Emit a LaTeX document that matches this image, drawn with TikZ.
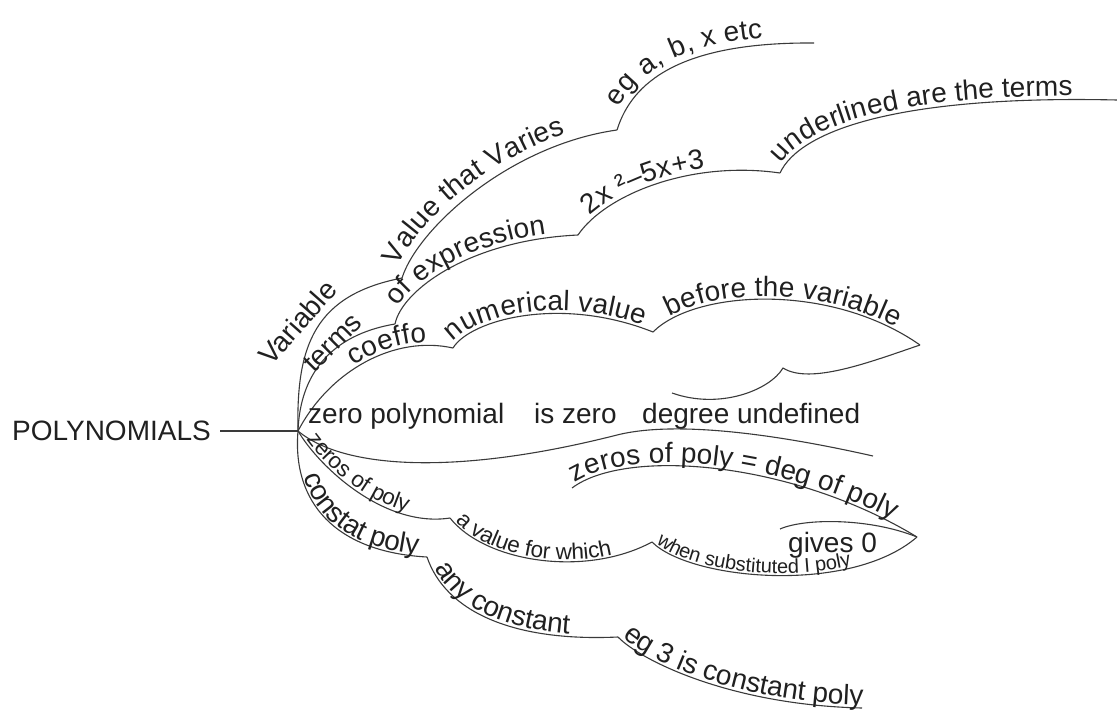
\documentclass[tikz,border=0pt]{standalone}
\usepackage{fontspec}
\setmainfont{Liberation Sans}
\usetikzlibrary{decorations.text}
\definecolor{inkline}{HTML}{3A3A3A}
\definecolor{inktext}{HTML}{202020}
\newcommand\bigtext{\fontsize{28}{32}\selectfont}
\newcommand\midtext{\fontsize{22.5}{26}\selectfont}
\newcommand\smalltext{\fontsize{20}{24}\selectfont}

\tikzset{
  branch/.style={draw=inkline, line width=1.1pt},
  flat/.style={anchor=base west, inner sep=0pt, font=\bigtext, text=inktext},
  tilted/.style={anchor=base, inner sep=0pt, font=\bigtext, text=inktext, rotate=#1},
  % text laid along a branch: text, start offset along the branch, lift above it
  bigalong/.style n args={3}{postaction={decorate, decoration={text along path,
      text={|\color{inktext}\bigtext|#1}, text align={left indent=#2}, raise=#3}}},
  midalong/.style n args={3}{postaction={decorate, decoration={text along path,
      text={|\color{inktext}\midtext|#1}, text align={left indent=#2}, raise=#3}}},
  smallalong/.style n args={3}{postaction={decorate, decoration={text along path,
      text={|\color{inktext}\smalltext|#1}, text align={left indent=#2}, raise=#3}}},
}

\begin{document}
\begin{tikzpicture}[x=1pt,y=-1pt]
\useasboundingbox (0,0) rectangle (1117,718);

% junctions of the map
\coordinate (hub)  at (298,431);
\coordinate (jV)   at (402,278);
\coordinate (jV2)  at (617,130);
\coordinate (eV)   at (814,43);
\coordinate (jT)   at (395,324);
\coordinate (jT2)  at (578,235);
\coordinate (jT3)  at (780,173);
\coordinate (eT)   at (1117,100);
\coordinate (jC)   at (453,348);
\coordinate (jN)   at (653,332);
\coordinate (tipB) at (920,345);
\coordinate (jB)   at (783,368);
\coordinate (eB)   at (672,393);
\coordinate (mZP)  at (617,435);
\coordinate (eZP)  at (873,456);
\coordinate (jZ)   at (450,518);
\coordinate (jW)   at (652,542);
\coordinate (tipZ) at (917,537);
\coordinate (sD)   at (572,488);
\coordinate (sG)   at (780,529);
\coordinate (jK)   at (427,557);
\coordinate (jA)   at (618,637);
\coordinate (eK)   at (862,708);

% central topic
\node[anchor=east, inner sep=0pt, font=\bigtext, text=inktext] (poly) at (211,431) {POLYNOMIALS};
\draw[branch] ([xshift=9pt]poly.east) -- (hub);

% variable
\draw[branch] (hub) .. controls (296,345) and (315,295) .. (jV);
\node[tilted=48.5] (var) at (305,329) {Variable};
\draw[branch, bigalong={Value that Varies}{8pt}{8pt}]
  (jV) .. controls (418,228) and (510,145) .. (jV2);
\draw[branch, bigalong={eg a, b, x etc}{20pt}{7pt}]
  (jV2) .. controls (632,82) and (680,42) .. (eV);

% terms
\draw[branch] (hub) .. controls (300,375) and (330,335) .. (jT);
\node[tilted=45] (trm) at (339,349) {terms};
\draw[branch, bigalong={of expression}{16pt}{4pt}]
  (jT) .. controls (402,290) and (470,240) .. (jT2);
\draw[branch, bigalong={2x ²–5x+3}{22pt}{4pt}]
  (jT2) .. controls (605,195) and (690,160) .. (jT3);
\draw[branch, bigalong={underlined are the terms}{8pt}{4pt}]
  (jT3) .. controls (800,130) and (900,95) .. (eT);

% coefficient
\draw[branch, bigalong={coeffo}{86pt}{3pt}]
  (hub) .. controls (330,370) and (395,335) .. (jC);
\draw[branch, bigalong={numerical value}{4pt}{3pt}]
  (jC) .. controls (470,320) and (560,295) .. (jN);
\draw[branch, bigalong={before the variable}{22pt}{3pt}]
  (jN) .. controls (695,290) and (830,282) .. (tipB);
\draw[branch] (tipB) .. controls (870,362) and (810,385) .. (jB)
  .. controls (770,390) and (720,410) .. (eB);

% zero polynomial
\draw[branch] (hub) .. controls (345,470) and (460,475) .. (mZP)
  .. controls (677,420) and (780,435) .. (eZP);
\node[flat] (zp) at (308,423) {zero polynomial};
\node[flat] (iz) at (534,423) {is zero};
\node[flat] (du) at (642,423) {degree undefined};

% zeros of a polynomial
\draw[branch, midalong={zeros of poly}{12pt}{3pt}]
  (hub) .. controls (320,468) and (385,528) .. (jZ);
\draw[branch, midalong={a value for which}{6pt}{2pt}]
  (jZ) .. controls (485,562) and (585,578) .. (jW);
\draw[branch, smallalong={when substituted I poly}{4pt}{2pt}]
  (jW) .. controls (690,580) and (850,595) .. (tipZ);
\draw[branch, bigalong={zeros of poly = deg of poly}{5pt}{3pt}]
  (sD) .. controls (625,448) and (790,460) .. (tipZ);
\draw[branch] (sG) .. controls (805,518) and (870,518) .. (tipZ);
\node[flat] (g0) at (788,552) {gives 0};

% constant polynomial
\draw[branch, bigalong={constat poly}{47pt}{2pt}]
  (hub) .. controls (292,502) and (335,552) .. (jK);
\draw[branch, bigalong={any constant}{14pt}{3pt}]
  (jK) .. controls (445,610) and (510,642) .. (jA);
\draw[branch, bigalong={eg 3 is constant poly}{4pt}{3pt}]
  (jA) .. controls (640,660) and (730,705) .. (eK);
\end{tikzpicture}
\end{document}
